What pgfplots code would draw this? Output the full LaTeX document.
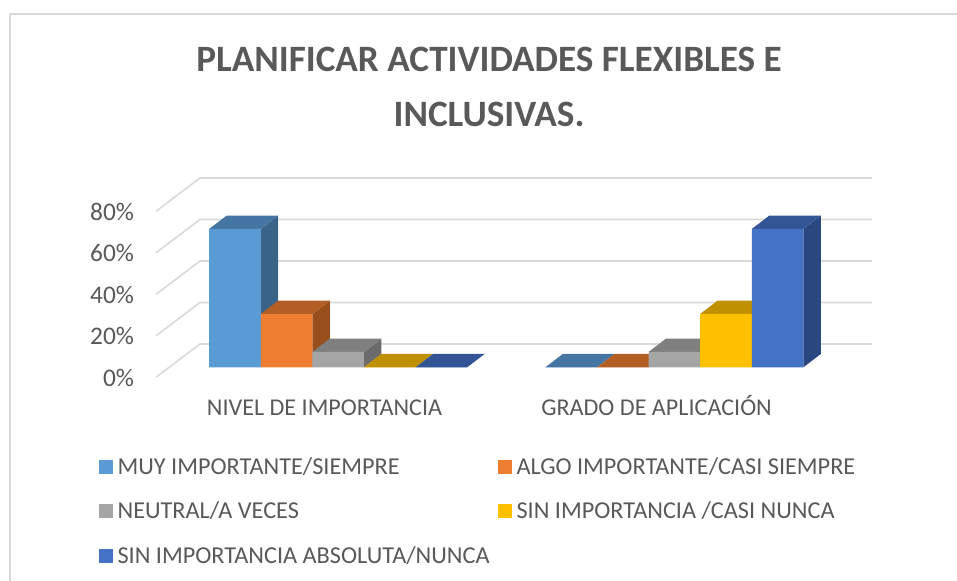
\documentclass[border=0pt]{standalone}
\usepackage{fontspec}
\setmainfont{Carlito}
\usepackage{pgfplots}
\pgfplotsset{compat=1.18}
\definecolor{txt}{HTML}{595959}
\definecolor{gridc}{HTML}{D9D9D9}
\definecolor{aF}{HTML}{5B9BD5}\definecolor{aT}{HTML}{4575A3}\definecolor{aS}{HTML}{3A6389}
\definecolor{bF}{HTML}{ED7D31}\definecolor{bT}{HTML}{B35E24}\definecolor{bS}{HTML}{984F1C}
\definecolor{cF}{HTML}{A5A5A5}\definecolor{cT}{HTML}{7F7F7F}\definecolor{cS}{HTML}{6B6B6B}
\definecolor{dF}{HTML}{FFC000}\definecolor{dT}{HTML}{BF9000}\definecolor{dS}{HTML}{A37C00}
\definecolor{eF}{HTML}{4472C4}\definecolor{eT}{HTML}{335596}\definecolor{eS}{HTML}{2B4780}
\pgfplotsset{
  sq/.style={legend image code/.code={\path[##1] (0pt,-5.25pt) rectangle (10.5pt,5.25pt);\path (12pt,0pt);}},
  face/.style={fill=#1,draw=none,forget plot},
  gl/.style={draw=gridc,line width=1.2pt,forget plot,no markers},
}
\begin{document}
\begin{tikzpicture}[x=0.75pt,y=0.75pt]
\path[use as bounding box] (0,0) rectangle (957,581);
\draw[gridc,line width=1.5pt] (9.5,0) -- (9.5,566.7) -- (957,566.7);
\node[font=\fontsize{27.9pt}{30pt}\bfseries\selectfont,text=txt,anchor=base] at (489,509) {PLANIFICAR ACTIVIDADES FLEXIBLES E};
\node[font=\fontsize{27.9pt}{30pt}\bfseries\selectfont,text=txt,anchor=base] at (489,454) {INCLUSIVAS.};
\begin{axis}[
  at={(117pt,152.775pt)},anchor=south west,
  width=537pt,height=149.85pt,scale only axis,
  xmin=-0.5419,xmax=1.5878,ymin=-4.82,ymax=91.47,
  axis line style={draw=none},
  major tick length=0pt,
  xtick={-0.0407,0.947},
  xticklabels={NIVEL DE IMPORTANCIA,GRADO DE APLICACIÓN},
  ytick={-4.82,15.18,35.18,55.18,75.18},
  yticklabels={0\%,20\%,40\%,60\%,80\%},
  x tick label style={font=\fontsize{18.1pt}{21pt}\selectfont,text=txt,yshift=-11pt,text height=14pt,text depth=4pt},
  y tick label style={font=\fontsize{19pt}{22pt}\selectfont,text=txt,xshift=-13pt,yshift=-0.5pt},
  clip=false,
  legend columns=2,
  legend cell align=left,
  legend style={at={(axis cs:-0.7117,-42.1)},anchor=north west,draw=none,fill=none,
    font=\fontsize{18.2pt}{21pt}\selectfont,text=txt,row sep=15.4pt,
    inner sep=0pt,outer sep=0pt,
    /tikz/every even column/.append style={column sep=4.25pt}},
]
% gridlines: front end, back end, right end
\addplot[gl] coordinates {(-0.5419,-4.82)(-0.4109,11.25)(1.5878,11.25)};
\addplot[gl] coordinates {(-0.5419,15.18)(-0.4109,31.25)(1.5878,31.25)};
\addplot[gl] coordinates {(-0.5419,35.18)(-0.4109,51.25)(1.5878,51.25)};
\addplot[gl] coordinates {(-0.5419,55.18)(-0.4109,71.25)(1.5878,71.25)};
\addplot[gl] coordinates {(-0.5419,75.18)(-0.4109,91.25)(1.5878,91.25)};

% Series 1: 66.67 , 0
\addplot[face=aS] coordinates {(-0.23022,0)(-0.17846,6.41)(-0.17846,73.08)(-0.23022,66.67)};
\addplot[face=aT] coordinates {(-0.3837,66.67)(-0.23022,66.67)(-0.17846,73.08)(-0.33194,73.08)};
\addplot[face=aT] coordinates {(0.6163,0)(0.76978,0)(0.82154,6.41)(0.66806,6.41)};
\addplot[ybar,bar width=38.7pt,bar shift=-77.4pt,fill=aF,draw=none,sq] coordinates {(0,66.67)(1,0)};
\addlegendentry{MUY IMPORTANTE/SIEMPRE}

% Series 2: 25.7 , 0
\addplot[face=bS] coordinates {(-0.07674,0)(-0.02498,6.41)(-0.02498,32.11)(-0.07674,25.7)};
\addplot[face=bT] coordinates {(-0.23022,25.7)(-0.07674,25.7)(-0.02498,32.11)(-0.17846,32.11)};
\addplot[face=bT] coordinates {(0.76978,0)(0.92326,0)(0.97502,6.41)(0.82154,6.41)};
\addplot[ybar,bar width=38.7pt,bar shift=-38.7pt,fill=bF,draw=none,sq] coordinates {(0,25.7)(1,0)};
\addlegendentry{ALGO IMPORTANTE/CASI SIEMPRE}

% Series 3: 7.4 , 7.4
\addplot[face=cS] coordinates {(0.07674,0)(0.1285,6.41)(0.1285,13.81)(0.07674,7.4)};
\addplot[face=cT] coordinates {(-0.07674,7.4)(0.07674,7.4)(0.1285,13.81)(-0.02498,13.81)};
\addplot[face=cT] coordinates {(0.92326,7.4)(1.07674,7.4)(1.1285,13.81)(0.97502,13.81)};
\addplot[ybar,bar width=38.7pt,bar shift=0pt,fill=cF,draw=none,sq] coordinates {(0,7.4)(1,7.4)};
\addlegendentry{NEUTRAL/A VECES}

% Series 4: 0 , 25.7
\addplot[face=dT] coordinates {(0.07674,0)(0.23022,0)(0.28198,6.41)(0.1285,6.41)};
\addplot[face=dT] coordinates {(1.07674,25.7)(1.23022,25.7)(1.28198,32.11)(1.1285,32.11)};
\addplot[ybar,bar width=38.7pt,bar shift=38.7pt,fill=dF,draw=none,sq] coordinates {(0,0)(1,25.7)};
\addlegendentry{SIN IMPORTANCIA /CASI NUNCA}

% Series 5: 0 , 66.67
\addplot[face=eT] coordinates {(0.23022,0)(0.3837,0)(0.43546,6.41)(0.28198,6.41)};
\addplot[face=eS] coordinates {(1.3837,0)(1.43546,6.41)(1.43546,73.08)(1.3837,66.67)};
\addplot[face=eT] coordinates {(1.23022,66.67)(1.3837,66.67)(1.43546,73.08)(1.28198,73.08)};
\addplot[ybar,bar width=38.7pt,bar shift=77.4pt,fill=eF,draw=none,sq] coordinates {(0,0)(1,66.67)};
\addlegendentry{SIN IMPORTANCIA ABSOLUTA/NUNCA}
\end{axis}
\end{tikzpicture}
\end{document}
